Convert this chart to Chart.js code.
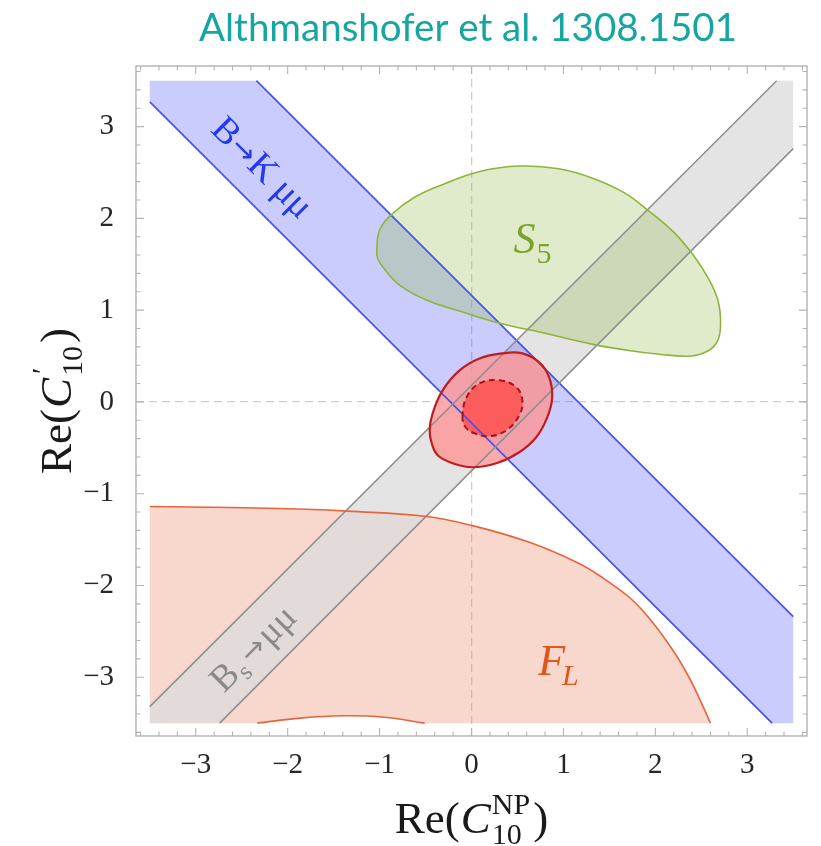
<!DOCTYPE html>
<html>
<head>
<meta charset="utf-8">
<script src="https://cdn.jsdelivr.net/npm/chart.js@4/dist/chart.umd.min.js"></script>
<style>
  html, body { margin: 0; padding: 0; background: #ffffff; }
  #wrap { width: 821px; height: 846px; }
  canvas { display: block; }
</style>
</head>
<body>
<div id="wrap"><canvas id="chart" width="821" height="846"></canvas></div>
<script>
// ---- axis setup -------------------------------------------------------
const X_RANGE = [-3.65, 3.65];
const Y_RANGE = [-3.64, 3.66];
const majorTicks = [-3, -2, -1, 0, 1, 2, 3];
const minorTickStep = 0.2;
const DOMAIN = [-3.5, 3.5];           // square on which the constraints are shown

// ---- B -> K mu mu band (two parallel edges) ----------------------------
const bkUpperEdge = [[-2.34, 3.5], [3.5, -2.34]];
const bkLowerEdge = [[-3.5, 3.27], [3.27, -3.5]];

// ---- Bs -> mu mu band -------------------------------------------------
const bsUpperEdge = [[-3.5, -3.32], [3.32, 3.5]];
const bsLowerEdge = [[-2.74, -3.5], [3.5, 2.76]];

// ---- F_L allowed region: upper boundary and small excluded arc ---------
const flBoundary = [
  [-3.5, -1.14], [-2.62, -1.15], [-1.8, -1.17], [-1.35, -1.19], [-0.51, -1.245],
  [0.0, -1.345], [0.63, -1.53], [1.17, -1.76], [1.44, -1.925], [1.74, -2.15],
  [1.96, -2.39], [2.18, -2.69], [2.35, -2.97], [2.47, -3.21], [2.60, -3.5]
];
const flLowerArc = [
  [-2.33, -3.5], [-1.86, -3.445], [-1.40, -3.42], [-0.95, -3.435], [-0.51, -3.5]
];

// ---- S5 allowed region (closed contour) -------------------------------
const s5Contour = [
  [-1.03, 1.65], [-1.00, 1.87], [-0.86, 2.05], [-0.62, 2.23], [-0.31, 2.37],
  [0.09, 2.51], [0.52, 2.57], [0.95, 2.54], [1.31, 2.44], [1.66, 2.28],
  [1.93, 2.08], [2.20, 1.85], [2.42, 1.59], [2.58, 1.34], [2.68, 1.11],
  [2.71, 0.86], [2.68, 0.67], [2.58, 0.56], [2.39, 0.50], [2.04, 0.52],
  [1.71, 0.56], [1.31, 0.63], [0.79, 0.75], [0.30, 0.86], [-0.13, 0.99],
  [-0.49, 1.11], [-0.78, 1.27], [-0.95, 1.45], [-1.02, 1.56]
];

// ---- global fit: 2 sigma (solid) and 1 sigma (dashed) contours ---------
const fit2Sigma = [
  [-0.455, -0.309], [-0.423, -0.124], [-0.314, 0.126], [-0.130, 0.344],
  [0.087, 0.474], [0.336, 0.529], [0.553, 0.529], [0.737, 0.431],
  [0.845, 0.268], [0.878, 0.050], [0.824, -0.168], [0.704, -0.385],
  [0.520, -0.548], [0.271, -0.668], [0.011, -0.712], [-0.206, -0.668],
  [-0.368, -0.581], [-0.433, -0.450]
];
const fit1Sigma = [
  [-0.098, -0.168], [-0.054, 0.050], [0.087, 0.202], [0.303, 0.235],
  [0.488, 0.159], [0.553, 0.017], [0.520, -0.146], [0.379, -0.309],
  [0.195, -0.374], [0.033, -0.342], [-0.065, -0.276]
];

// ---- text labels placed in data coordinates ---------------------------
const bandLabels = {
  bk:  { x: -2.27, y: 2.56 },
  bs:  { x: -2.38, y: -2.68 },
  s5:  { x: 0.63,  y: 1.80 },
  fl:  { x: 0.91,  y: -2.80 }
};

const TITLE = 'Althmanshofer et al. 1308.1501';

// ---- helpers ----------------------------------------------------------
const toPoints = arr => arr.map(([x, y]) => ({ x, y }));
const [dMin, dMax] = DOMAIN;

const bkFill = [bkLowerEdge[0], [dMin, dMax], bkUpperEdge[0], bkUpperEdge[1], [dMax, dMin], bkLowerEdge[1]];
const bsFill = [bsUpperEdge[0], bsUpperEdge[1], [dMax, dMax], bsLowerEdge[1], bsLowerEdge[0], [dMin, dMin]];
const arcReversed = flLowerArc.slice().reverse();
// corners are repeated so the smoothed outline keeps straight edges there
const flFill = [[dMin, dMin], flBoundary[0], ...flBoundary, flBoundary[flBoundary.length - 1],
                arcReversed[0], ...arcReversed];

function fmtTick(v) {
  return v < 0 ? '\u2212' + Math.abs(v) : String(v);
}

function region(points, opts) {
  return Object.assign({
    data: toPoints(points),
    showLine: true,
    pointRadius: 0,
    pointHoverRadius: 0,
    borderWidth: 0,
    borderColor: 'rgba(0,0,0,0)',
    tension: 0,
    fill: false,
    order: 1
  }, opts);
}

const datasets = [
  region(flFill,  { regionFill: 'rgba(235,140,110,0.35)', tension: 0.4 }),
  region(bsFill,  { regionFill: 'rgba(221,221,221,0.80)' }),
  region(bkFill,  { regionFill: 'rgba(100,110,245,0.35)' }),
  region(s5Contour, { regionFill: 'rgba(150,190,80,0.30)', closedLoop: true, tension: 0.4,
                      borderWidth: 1.6, borderColor: '#8db53a' }),
  region(fit2Sigma, { regionFill: 'rgba(255,150,150,0.80)', closedLoop: true, tension: 0.4,
                      borderWidth: 2.2, borderColor: '#bf1d1f', order: 0 }),
  region(fit1Sigma, { regionFill: 'rgba(255,80,80,0.85)', closedLoop: true, tension: 0.4,
                      borderWidth: 2.0, borderColor: '#a8161a', borderDash: [6, 4], order: 0 }),
  region(flBoundary, { tension: 0.4, borderWidth: 1.6, borderColor: '#e8643a' }),
  region(flLowerArc, { tension: 0.4, borderWidth: 1.6, borderColor: '#e8643a' }),
  region(bsUpperEdge, { borderWidth: 1.5, borderColor: '#8e8e8e' }),
  region(bsLowerEdge, { borderWidth: 1.5, borderColor: '#8e8e8e' }),
  region(bkUpperEdge, { borderWidth: 1.7, borderColor: '#4652ef' }),
  region(bkLowerEdge, { borderWidth: 1.7, borderColor: '#4652ef' })
];

// ---- plugins ----------------------------------------------------------
const regionFillPlugin = {
  id: 'regionFill',
  afterDatasetsUpdate(chart) {
    chart.data.datasets.forEach((ds, i) => {
      if (!ds.closedLoop) return;
      const line = chart.getDatasetMeta(i).dataset;
      if (!line) return;
      line._loop = true;
      line._fullLoop = true;
      delete line._segments;
      line._pointsUpdated = false;
      line._path = undefined;
    });
  },
  beforeDatasetsDraw(chart) {
    const ctx = chart.ctx, area = chart.chartArea;
    ctx.save();
    ctx.beginPath();
    ctx.rect(area.left, area.top, area.right - area.left, area.bottom - area.top);
    ctx.clip();
    chart.data.datasets.forEach((ds, i) => {
      if (!ds.regionFill) return;
      const line = chart.getDatasetMeta(i).dataset;
      if (!line) return;
      line.updateControlPoints(area, 'x');
      ctx.beginPath();
      line.path(ctx);
      ctx.closePath();
      ctx.fillStyle = ds.regionFill;
      ctx.fill();
    });
    ctx.restore();
  }
};

function drawRuns(ctx, runs, x, y, align) {
  // runs: [{text, font, dy, gap}] drawn left to right on a common baseline
  let total = 0;
  runs.forEach(r => { ctx.font = r.font; r.w = ctx.measureText(r.text).width + (r.gap || 0); total += r.w; });
  let cx = align === 'center' ? x - total / 2 : x;
  runs.forEach(r => {
    ctx.font = r.font;
    ctx.fillText(r.text, cx, y + (r.dy || 0));
    cx += r.w;
  });
  return total;
}

const SERIF = '"Liberation Serif"';
const ARROW = '"DejaVu Sans"';

const labelPlugin = {
  id: 'regionLabels',
  afterDatasetsDraw(chart) {
    const ctx = chart.ctx;
    const xs = chart.scales.x, ys = chart.scales.y;
    const px = p => [xs.getPixelForValue(p.x), ys.getPixelForValue(p.y)];
    ctx.save();
    ctx.textAlign = 'left';
    ctx.textBaseline = 'alphabetic';

    // B -> K mu mu along the blue band
    let [x, y] = px(bandLabels.bk);
    ctx.save();
    ctx.translate(x, y);
    ctx.rotate(Math.PI / 4);
    ctx.fillStyle = '#2438f0';
    drawRuns(ctx, [
      { text: 'B', font: '37px ' + SERIF, gap: 1 },
      { text: '\u2192', font: '29px ' + ARROW, dy: -1, gap: 1 },
      { text: 'K \u03bc\u03bc', font: '37px ' + SERIF }
    ], 0, 12, 'center');
    ctx.restore();

    // Bs -> mu mu along the grey band
    [x, y] = px(bandLabels.bs);
    ctx.save();
    ctx.translate(x, y);
    ctx.rotate(-Math.PI / 4);
    ctx.fillStyle = '#8a8a8a';
    drawRuns(ctx, [
      { text: 'B', font: '37px ' + SERIF, gap: 1 },
      { text: 's', font: '25px ' + SERIF, dy: 7, gap: 4 },
      { text: '\u2192', font: '29px ' + ARROW, dy: -1, gap: 2 },
      { text: '\u03bc\u03bc', font: '37px ' + SERIF }
    ], 0, 12, 'center');
    ctx.restore();

    // S5
    [x, y] = px(bandLabels.s5);
    ctx.fillStyle = '#7aa42a';
    drawRuns(ctx, [
      { text: 'S', font: 'italic 44px ' + SERIF, gap: 1 },
      { text: '5', font: '30px ' + SERIF, dy: 10 }
    ], x - 16, y + 16, 'left');

    // F_L
    [x, y] = px(bandLabels.fl);
    ctx.fillStyle = '#e0561e';
    drawRuns(ctx, [
      { text: 'F', font: 'italic 44px ' + SERIF, gap: -3 },
      { text: 'L', font: 'italic 30px ' + SERIF, dy: 10 }
    ], x - 17, y + 16, 'left');

    ctx.restore();
  }
};

const framePlugin = {
  id: 'frameTicks',
  afterDraw(chart) {
    const ctx = chart.ctx, a = chart.chartArea;
    const xs = chart.scales.x, ys = chart.scales.y;
    ctx.save();
    ctx.strokeStyle = '#b3b3b3';
    ctx.lineWidth = 1.4;
    ctx.strokeRect(a.left, a.top, a.right - a.left, a.bottom - a.top);
    ctx.lineWidth = 1.1;
    ctx.beginPath();
    const drawSet = (scale, range, horizontal) => {
      const nMin = Math.ceil(range[0] / minorTickStep - 1e-9);
      const nMax = Math.floor(range[1] / minorTickStep + 1e-9);
      for (let n = nMin; n <= nMax; n++) {
        const v = n * minorTickStep;
        const major = Math.abs(v - Math.round(v)) < 1e-6;
        const len = major ? 8 : 4.5;
        const p = scale.getPixelForValue(v);
        if (horizontal) {
          ctx.moveTo(p, a.bottom); ctx.lineTo(p, a.bottom - len);
          ctx.moveTo(p, a.top);    ctx.lineTo(p, a.top + len);
        } else {
          ctx.moveTo(a.left, p);   ctx.lineTo(a.left + len, p);
          ctx.moveTo(a.right, p);  ctx.lineTo(a.right - len, p);
        }
      }
    };
    drawSet(xs, X_RANGE, true);
    drawSet(ys, Y_RANGE, false);
    ctx.stroke();

    // axis titles
    ctx.fillStyle = '#1a1a1a';
    ctx.textBaseline = 'alphabetic';
    const big = '45px ' + SERIF;
    const bigIt = 'italic 45px ' + SERIF;
    const small = '30px ' + SERIF;

    // x: Re(C_10^NP)
    {
      const runs = [
        { text: 'Re(', font: big, gap: 1 },
        { text: 'C', font: bigIt, gap: 1 }
      ];
      let w0 = 0;
      runs.forEach(r => { ctx.font = r.font; w0 += ctx.measureText(r.text).width + (r.gap || 0); });
      ctx.font = small;
      const wSub = ctx.measureText('10').width;
      const wSup = ctx.measureText('NP').width;
      ctx.font = big;
      const wClose = ctx.measureText(')').width;
      const total = w0 + Math.max(wSub, wSup) + 3 + wClose;
      const cx = (a.left + a.right) / 2;
      const x0 = cx - total / 2;
      const base = 833;
      drawRuns(ctx, runs, x0, base, 'left');
      ctx.font = small;
      ctx.fillText('10', x0 + w0, base + 11);
      ctx.fillText('NP', x0 + w0, base - 19);
      ctx.font = big;
      ctx.fillText(')', x0 + w0 + Math.max(wSub, wSup) + 3, base);
    }

    // y: Re(C'_10)
    {
      ctx.save();
      ctx.translate(71, (a.top + a.bottom) / 2);
      ctx.rotate(-Math.PI / 2);
      let w = 0;
      const parts = [
        { text: 'Re(', font: big, gap: 1 },
        { text: 'C', font: bigIt, gap: 2 }
      ];
      parts.forEach(r => { ctx.font = r.font; w += ctx.measureText(r.text).width + (r.gap || 0); });
      ctx.font = small;
      const wSub = ctx.measureText('10').width;
      ctx.font = big;
      const wClose = ctx.measureText(')').width;
      const total = w + wSub + 3 + wClose;
      const x0 = -total / 2;
      drawRuns(ctx, parts, x0, 0, 'left');
      ctx.font = small;
      ctx.fillText('10', x0 + w, 11);
      ctx.fillText('\u2032', x0 + w + 2, -19);
      ctx.font = big;
      ctx.fillText(')', x0 + w + wSub + 3, 0);
      ctx.restore();
    }

    // title
    ctx.fillStyle = '#17a59f';
    ctx.font = '38.5px Lato';
    ctx.textAlign = 'center';
    ctx.fillText(TITLE, 468, 41);
    ctx.restore();
  }
};

function tickAxis(range, fit) {
  return {
    type: 'linear',
    min: range[0],
    max: range[1],
    afterBuildTicks: s => { s.ticks = majorTicks.map(v => ({ value: v })); },
    afterFit: fit,
    ticks: {
      callback: v => fmtTick(v),
      font: { family: SERIF, size: 29 },
      color: '#262626',
      maxRotation: 0,
      autoSkip: false
    },
    grid: {
      color: c => (c.tick && c.tick.value === 0) ? '#cdcdcd' : 'rgba(0,0,0,0)',
      lineWidth: 1.3,
      drawTicks: false
    },
    border: { display: false, dash: [8, 5] }
  };
}

function build() {
  const xAxis = tickAxis(X_RANGE, s => { s.height = 110; });
  xAxis.ticks.padding = 12;
  const yAxis = tickAxis(Y_RANGE, s => { s.width = 136; });
  yAxis.ticks.padding = 22;

  new Chart(document.getElementById('chart'), {
    type: 'scatter',
    data: { datasets },
    options: {
      responsive: false,
      devicePixelRatio: 1,
      animation: false,
      events: [],
      layout: { padding: { top: 66, right: 14, bottom: 0, left: 0 } },
      plugins: { legend: { display: false }, tooltip: { enabled: false }, title: { display: false } },
      scales: { x: xAxis, y: yAxis }
    },
    plugins: [regionFillPlugin, labelPlugin, framePlugin]
  });
}

const fontLoads = [
  '29px "Liberation Serif"', 'italic 44px "Liberation Serif"', '38px Lato', '29px "DejaVu Sans"'
].map(f => document.fonts.load(f).catch(() => null));
Promise.all(fontLoads).then(build, build);
</script>
</body>
</html>
